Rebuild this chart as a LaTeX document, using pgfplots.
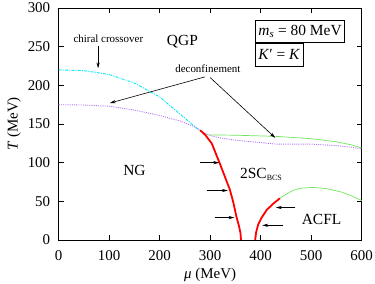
\documentclass[border=0pt]{standalone}
\usepackage{fontspec}
\setmainfont{Liberation Serif}
\usepackage{pgfplots}
\pgfplotsset{compat=1.18}
\usetikzlibrary{arrows.meta}
\definecolor{cyanl}{RGB}{0,235,245}
\definecolor{purp}{RGB}{175,110,245}
\definecolor{grn}{RGB}{110,230,90}
\begin{document}
\begin{tikzpicture}
\useasboundingbox (-58.7bp,-44bp) rectangle (316.3bp,240bp);
\begin{axis}[
  at={(0,0)}, anchor=south west,
  width=303bp, height=232bp, scale only axis,
  xmin=0, xmax=600, ymin=0, ymax=300,
  xtick={0,100,...,600}, ytick={0,50,...,300},
  xtick pos=both, ytick pos=both,
  tick align=inside, major tick length=5bp,
  axis line style={line width=0.8pt},
  every tick/.style={black, line width=0.6pt},
  /pgf/number format/assume math mode=true,
  tick label style={font=\fontsize{15}{15}\selectfont},
  xticklabel style={yshift=-7bp},
  yticklabel style={xshift=-5bp},
  label style={font=\fontsize{15}{15}\selectfont},
  xlabel={\textit{μ} (MeV)},
  ylabel={\textit{T} (MeV)},
  xlabel style={yshift=-1bp},
  ylabel style={yshift=0bp},
  clip=false,
]
% chiral crossover
\addplot[cyanl, line width=0.9pt, dash pattern=on 3pt off 1.2pt on 1pt off 1.2pt] coordinates {
(0,220)(50,219)(100,214)(150,203)(200,185)(240,163)(260,152)(278,142)};
% deconfinement
\addplot[purp, line width=0.9pt, dash pattern=on 1pt off 1.2pt] coordinates {
(0,175)(50,174.5)(100,173)(150,168)(200,161)(240,154)(270,146)(285,140)(300,135)(320,132)(350,129)(400,126)(430,124)(470,124)(500,124)(550,122)(580,120)(600,118)};
% green lines
\addplot[grn, line width=0.7pt] coordinates {
(290,136)(350,135.5)(430,134)(500,131)(550,127)(580,123)(600,119)};
\addplot[grn, line width=0.7pt] coordinates {
(438,54)(450,59)(465,64.5)(480,67)(504,68)(530,66.5)(560,62)(580,57)(600,51)};
% red first order lines
\addplot[red, line width=1.8pt] coordinates {
(280,142)(290,136)(303,125)(311,112)(319,99)(329,82)(339,65)(346,48)(352,30)(357,18)(360,9)(361,0)};
\addplot[red, line width=1.8pt] coordinates {
(389,0)(391,10)(395,20)(402,29)(412,39)(425,47)(438,54)};
% arrows
\begin{scope}[-{Stealth[length=6bp,width=3.2bp]}, line width=0.6pt]
\draw (axis cs:78,251) -- (axis cs:78,222);
\draw (axis cs:290,211) -- (axis cs:101,177);
\draw (axis cs:300,210) -- (axis cs:429,132);
\draw (axis cs:280,100) -- (axis cs:318,100);
\draw (axis cs:293,64) -- (axis cs:335,64);
\draw (axis cs:309,29) -- (axis cs:348,29);
\draw (axis cs:468,42) -- (axis cs:430,42);
\draw (axis cs:445,19) -- (axis cs:403,19);
\end{scope}
% labels
\node[anchor=base west, inner sep=0, font=\fontsize{11}{11}\selectfont] at (axis cs:29,255) {chiral crossover};
\node[anchor=base west, inner sep=0, font=\fontsize{11}{11}\selectfont] at (axis cs:230.5,216) {deconfinement};
\node[anchor=base west, inner sep=0, font=\fontsize{15.5}{15.5}\selectfont] at (axis cs:214,252) {QGP};
\node[anchor=base west, inner sep=0, font=\fontsize{15.5}{15.5}\selectfont] at (axis cs:127.5,84) {NG};
\node[anchor=base west, inner sep=0, font=\fontsize{15.5}{15.5}\selectfont] at (axis cs:359,80) {2SC\textsubscript{\fontsize{8}{8}\selectfont BCS}};
\node[anchor=base west, inner sep=0, font=\fontsize{15.5}{15.5}\selectfont] at (axis cs:481,19.5) {ACFL};
% boxes
\node[draw, line width=0.8pt, anchor=north west, inner xsep=3bp, minimum height=22bp, font=\fontsize{15.5}{15.5}\selectfont] (b1) at (axis cs:388.7,284.5) {\textit{m}\textsubscript{\textit{s}} = 80 MeV};
\node[draw, line width=0.8pt, anchor=north west, inner xsep=3bp, minimum height=23bp, font=\fontsize{15.5}{15.5}\selectfont] at (b1.south west) {\textit{K}′ = \textit{K}};
\end{axis}
\end{tikzpicture}
\end{document}
